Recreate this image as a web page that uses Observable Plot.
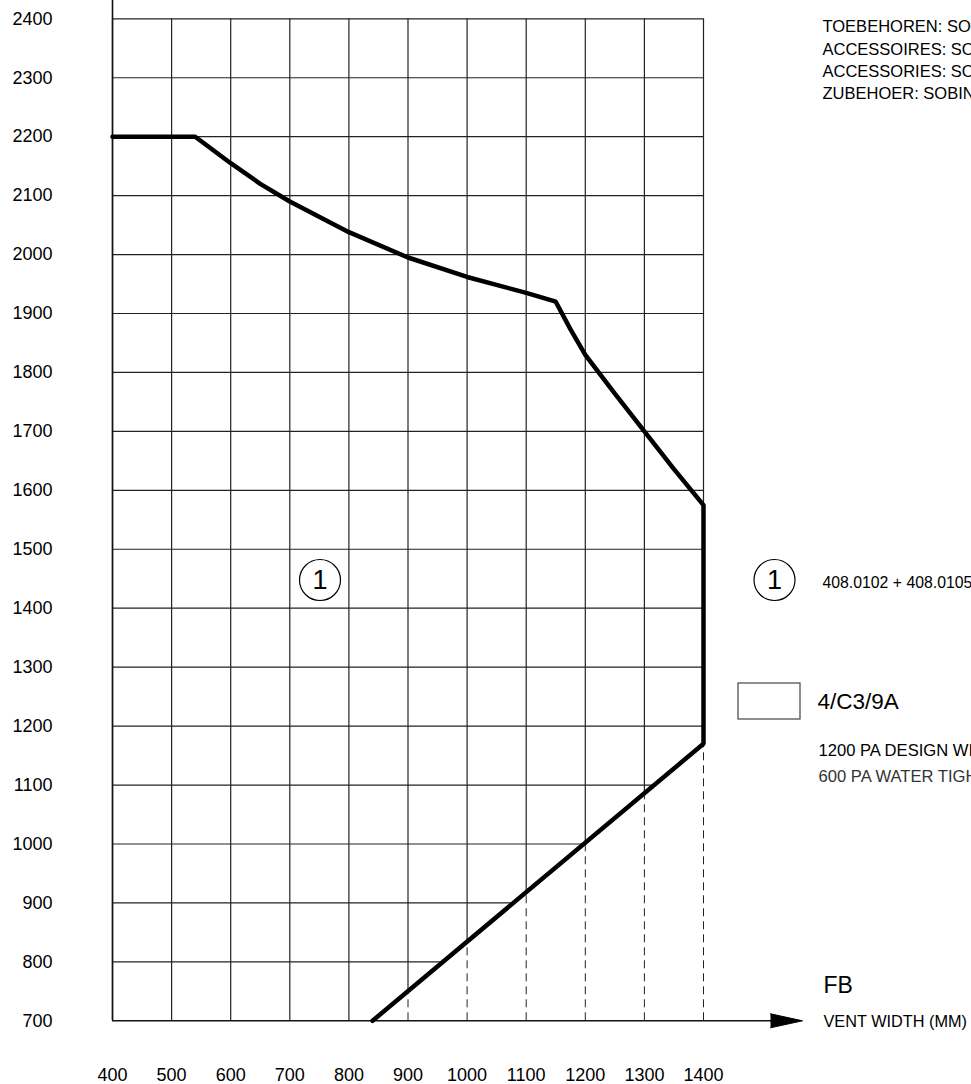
<!DOCTYPE html>
<html><head><meta charset="utf-8">
<script src="https://cdn.jsdelivr.net/npm/d3@7"></script>
<script src="https://cdn.jsdelivr.net/npm/@observablehq/plot@0.6"></script>
<style>
html,body{margin:0;padding:0;background:#fff;overflow:hidden;width:971px;height:1084px}
#chart svg{display:block}
</style></head><body><div id="chart"></div>
<script>
// Axis ticks
const xTicks = [400, 500, 600, 700, 800, 900, 1000, 1100, 1200, 1300, 1400];
const yTicks = [700, 800, 900, 1000, 1100, 1200, 1300, 1400, 1500, 1600, 1700, 1800, 1900, 2000, 2100, 2200, 2300, 2400];
// Upper limit curve (vent width mm -> height mm)
const upperX = [400, 540, 600, 650, 700, 800, 900, 1000, 1100, 1150, 1175, 1200, 1250, 1300, 1350, 1400];
const upperY = [2200, 2200, 2155, 2120, 2090, 2038, 1995, 1962, 1935, 1920, 1873, 1830, 1764, 1700, 1636, 1575];
// Right side limit
const sideX = [1400, 1400];
const sideY = [1575, 1170];
// Lower limit (diagonal)
const lowerX = [1400, 840];
const lowerY = [1170, 700];
// Annotation texts
const topNotes = ["TOEBEHOREN: SOBINCO", "ACCESSOIRES: SOBINCO", "ACCESSORIES: SOBINCO", "ZUBEHOER: SOBINCO"];
const zoneLabel = "1";
const zoneNote = "408.0102 + 408.0105";
const classLabel = "4/C3/9A";
const classNotes = ["1200 PA DESIGN WIND LOAD", "600 PA WATER TIGHTNESS"];
const xTitleTop = "FB";
const xTitle = "VENT WIDTH (MM)";

// build geometry
const outline = [];
upperX.forEach((x, i) => outline.push({x, y: upperY[i]}));
sideX.forEach((x, i) => { if (i > 0) outline.push({x, y: sideY[i]}); });
lowerX.forEach((x, i) => { if (i > 0) outline.push({x, y: lowerY[i]}); });

const lowAt = d3.scaleLinear().domain([lowerX[1], lowerX[0]]).range([lowerY[1], lowerY[0]]);
const xMin = xTicks[0], xMax = xTicks[xTicks.length - 1];
const yMin = yTicks[0], yMax = yTicks[yTicks.length - 1];

const vSolid = xTicks.map(x => ({x, y1: x > lowerX[1] ? lowAt(x) : yMin, y2: yMax}));
const vDash = xTicks.filter(x => x > lowerX[1]).map(x => ({x, y1: yMin, y2: lowAt(x)}));
const hSolid = yTicks.filter(y => y > yMin).map(y => ({y, x1: xMin, x2: y < lowerY[0] ? lowAt.invert(y) : xMax}));

const width = 971, height = 1084;
const mL = 112, mR = 268, mT = 18.3, mB = 63.7;
const pxX = (width - mL - mR) / (xMax - xMin);   // px per mm
const pxY = (height - mT - mB) / (yMax - yMin);
// helpers to place annotations relative to the frame (data units)
const ax = px => xMin + (px - mL) / pxX;
const ay = py => yMax - (py - mT) / pxY;

const arrow = [{x: ax(770), y: yMin + 7 / pxY}, {x: ax(802), y: yMin}, {x: ax(770), y: yMin - 7 / pxY}];

const font = "'Liberation Sans', Arial, Helvetica, sans-serif";

const chart = Plot.plot({
  width, height,
  marginLeft: mL, marginRight: mR, marginTop: mT, marginBottom: mB,
  style: {fontFamily: font, background: "white", color: "black", overflow: "hidden"},
  x: {domain: [xMin, xMax], ticks: xTicks, axis: null},
  y: {domain: [yMin, yMax], ticks: yTicks, axis: null},
  marks: [
    // grid
    Plot.ruleX(vSolid, {x: "x", y1: "y1", y2: "y2", stroke: "#222", strokeWidth: 1.2}),
    Plot.ruleX(vDash, {x: "x", y1: "y1", y2: "y2", stroke: "#222", strokeWidth: 1, strokeDasharray: "8,5"}),
    Plot.ruleY(hSolid, {y: "y", x1: "x1", x2: "x2", stroke: "#222", strokeWidth: 1.2}),
    // axes lines
    Plot.ruleX([xMin], {y1: yMin, y2: ay(0), stroke: "#111", strokeWidth: 1.6}),
    Plot.ruleY([yMin], {x1: xMin, x2: ax(772), stroke: "#111", strokeWidth: 1.6}),
    Plot.line(arrow, {x: "x", y: "y", fill: "black", stroke: "black", strokeWidth: 1}),
    // tick labels
    Plot.text(yTicks, {x: xMin, y: d => d, text: d => String(d), textAnchor: "end", dx: -60, fontSize: 18}),
    Plot.text(xTicks, {x: d => d, y: yMin, text: d => String(d), dy: 54, fontSize: 18}),
    // limit outline
    Plot.line(outline, {x: "x", y: "y", stroke: "black", strokeWidth: 4.5, strokeLinejoin: "miter"}),
    // zone marker in chart
    Plot.dot([0], {x: ax(319.5), y: ay(579.5), r: 20.5, stroke: "black", strokeWidth: 1.2, fill: "white"}),
    Plot.text([zoneLabel], {x: ax(319.5), y: ay(580), text: d => d, fontSize: 27}),
    // legend: zone
    Plot.dot([0], {x: ax(774), y: ay(579.5), r: 20.5, stroke: "black", strokeWidth: 1.2, fill: "white"}),
    Plot.text([zoneLabel], {x: ax(774), y: ay(580), text: d => d, fontSize: 27}),
    Plot.text([zoneNote], {x: ax(822), y: ay(582), text: d => d, textAnchor: "start", fontSize: 15.8}),
    // legend: class box
    Plot.rect([0], {x1: ax(738), x2: ax(800), y1: ay(719), y2: ay(683), stroke: "#444", strokeWidth: 1.2, fill: "white"}),
    Plot.text([classLabel], {x: ax(817), y: ay(701), text: d => d, textAnchor: "start", fontSize: 22.5}),
    Plot.text([classNotes[0]], {x: ax(818), y: ay(750), text: d => d, textAnchor: "start", fontSize: 16.6, fill: "#000"}),
    Plot.text([classNotes[1]], {x: ax(818), y: ay(776), text: d => d, textAnchor: "start", fontSize: 16.6, fill: "#333"}),
    // x title
    Plot.text([xTitleTop], {x: ax(823), y: ay(985), text: d => d, textAnchor: "start", fontSize: 23}),
    Plot.text([xTitle], {x: ax(823), y: ay(1021), text: d => d, textAnchor: "start", fontSize: 16.3}),
    // top-right notes
    Plot.text([topNotes.join("\n")], {x: ax(822), y: ay(16), text: d => d, textAnchor: "start", lineAnchor: "top", fontSize: 16.5, lineHeight: 1.35})
  ]
});
document.getElementById("chart").appendChild(chart);
</script>
</body></html>
